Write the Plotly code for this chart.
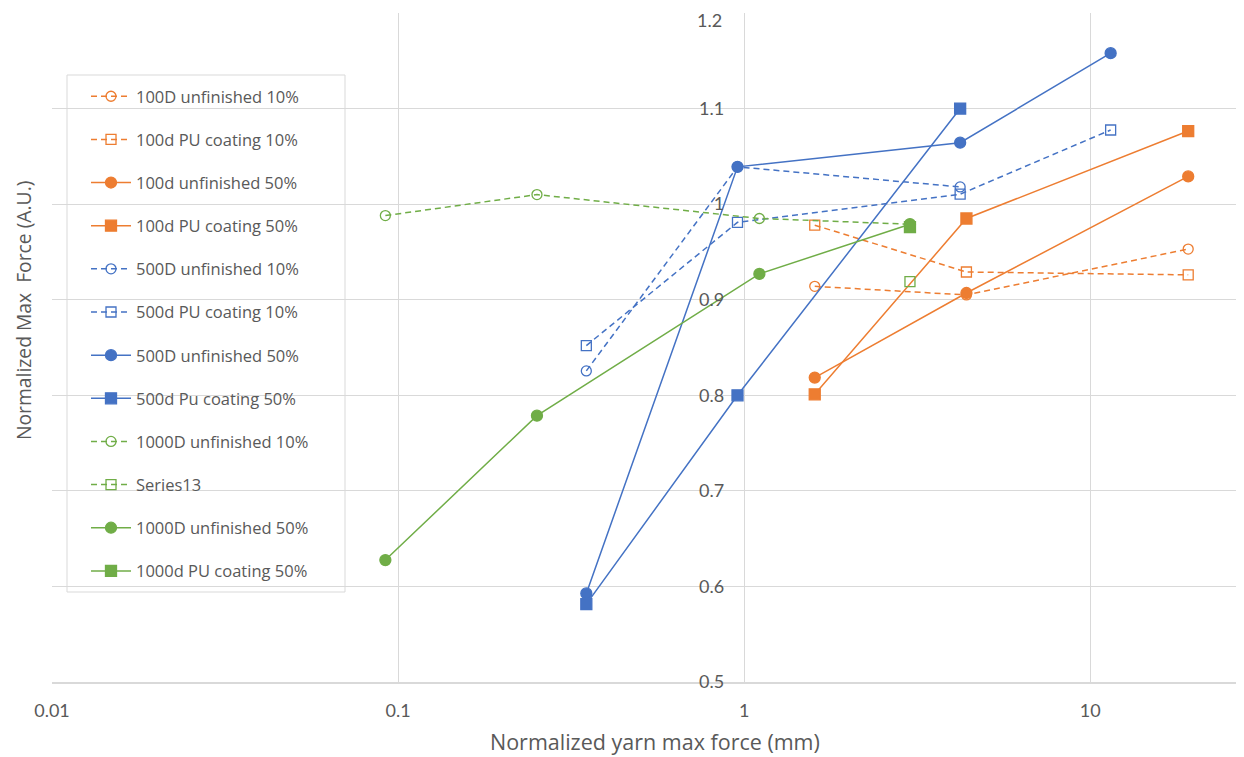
import plotly.graph_objects as go

# ---- data ----
x_100_unf10 = [1.6, 4.39, 19.2]
y_100_unf10 = [0.914, 0.905, 0.953]
x_100_pu10 = [1.6, 4.39, 19.2]
y_100_pu10 = [0.978, 0.929, 0.926]
x_100_unf50 = [1.6, 4.39, 19.2]
y_100_unf50 = [0.8185, 0.907, 1.029]
x_100_pu50 = [1.6, 4.39, 19.2]
y_100_pu50 = [0.801, 0.985, 1.0765]
x_500_unf10 = [0.35, 0.957, 4.21]
y_500_unf10 = [0.8255, 1.039, 1.018]
x_500_pu10 = [0.35, 0.957, 4.21, 11.46]
y_500_pu10 = [0.852, 0.981, 1.0104, 1.0776]
x_500_unf50 = [0.35, 0.957, 4.21, 11.46]
y_500_unf50 = [0.5927, 1.039, 1.0643, 1.158]
x_500_pu50 = [0.35, 0.957, 4.21]
y_500_pu50 = [0.5815, 0.80, 1.10]
x_1000_unf10 = [0.0919, 0.252, 1.107, 3.015]
y_1000_unf10 = [0.988, 1.01, 0.985, 0.979]
x_series13 = [3.015]
y_series13 = [0.919]
x_1000_unf50 = [0.0919, 0.252, 1.107, 3.015]
y_1000_unf50 = [0.6276, 0.7787, 0.927, 0.979]
x_1000_pu50 = [3.015]
y_1000_pu50 = [0.976]

x_tick_vals = [0.01, 0.1, 1, 10]
x_tick_text = ["0.01", "0.1", "1", "10"]
y_tick_vals = [0.5, 0.6, 0.7, 0.8, 0.9, 1.0, 1.1, 1.2]
y_tick_text = ["0.5", "0.6", "0.7", "0.8", "0.9", "1", "1.1", ""]
y_top_label = "1.2"

ORANGE = "#ED7D31"
BLUE = "#4472C4"
GREEN = "#70AD47"
TXT = "#595959"
GRID = "#D9D9D9"
DASH = "6px,4px"

series = [
    ("100D unfinished 10%", x_100_unf10, y_100_unf10, ORANGE, DASH, "circle-open"),
    ("100d PU coating 10%", x_100_pu10, y_100_pu10, ORANGE, DASH, "square-open"),
    ("100d unfinished 50%", x_100_unf50, y_100_unf50, ORANGE, "solid", "circle"),
    ("100d PU coating 50%", x_100_pu50, y_100_pu50, ORANGE, "solid", "square"),
    ("500D unfinished 10%", x_500_unf10, y_500_unf10, BLUE, DASH, "circle-open"),
    ("500d PU coating 10%", x_500_pu10, y_500_pu10, BLUE, DASH, "square-open"),
    ("500D unfinished 50%", x_500_unf50, y_500_unf50, BLUE, "solid", "circle"),
    ("500d Pu coating 50%", x_500_pu50, y_500_pu50, BLUE, "solid", "square"),
    ("1000D unfinished 10%", x_1000_unf10, y_1000_unf10, GREEN, DASH, "circle-open"),
    ("Series13", x_series13, y_series13, GREEN, DASH, "square-open"),
    ("1000D unfinished 50%", x_1000_unf50, y_1000_unf50, GREEN, "solid", "circle"),
    ("1000d PU coating 50%", x_1000_pu50, y_1000_pu50, GREEN, "solid", "square"),
]

# page offset (browser body margin) and figure geometry
OFF = 8
W, H = 1236, 749
ML, MR, MT, MB = 44, 4, 5, 75
PW = W - ML - MR
PH = H - MT - MB


def px(page_x):
    return (page_x - OFF - ML) / PW


def py(page_y):
    return 1 - (page_y - OFF - MT) / PH


fig = go.Figure()
for i, (name, xs, ys, col, dash, sym) in enumerate(series):
    is_open = sym.endswith("open")
    fig.add_trace(go.Scatter(
        x=xs, y=ys, name=name, mode="lines+markers",
        legendgroup="g%d" % i,
        line=dict(color=col, width=1.5, dash=dash),
        marker=dict(symbol=sym, size=10 if is_open else 11, color=col,
                    line=dict(color=col, width=1.3)),
    ))

xmin_log, xmax_log = -2, 1.433
ypos = (0 - xmin_log) / (xmax_log - xmin_log)

fig.update_layout(
    width=W, height=H,
    margin=dict(l=ML, r=MR, t=MT, b=MB, autoexpand=False),
    paper_bgcolor="white", plot_bgcolor="white",
    font=dict(family="Lato, Open Sans, sans-serif", color=TXT, size=14),
    showlegend=True,
    legend=dict(
        x=px(86), y=py(79), xanchor="left", yanchor="top",
        bgcolor="rgba(0,0,0,0)", borderwidth=0,
        font=dict(family="Open Sans, sans-serif", size=16.5, color=TXT),
        tracegroupgap=18.7,
        itemwidth=40,
    ),
    xaxis=dict(
        type="log", range=[xmin_log, xmax_log],
        tickvals=x_tick_vals, ticktext=x_tick_text,
        showgrid=True, gridcolor=GRID, gridwidth=1,
        showline=True, linecolor=GRID, linewidth=1.5,
        zeroline=False, ticks="", ticklabelstandoff=12,
        automargin=False,
        tickfont=dict(size=18, color=TXT),
    ),
    yaxis=dict(
        range=[0.5, 1.2],
        tickvals=y_tick_vals, ticktext=y_tick_text,
        showgrid=True, gridcolor=GRID, gridwidth=1,
        showline=False, zeroline=False, ticks="",
        anchor="free", position=ypos, side="left",
        ticklabelstandoff=20,
        automargin=False,
        tickfont=dict(size=18, color=TXT),
    ),
    shapes=[
        dict(type="rect", xref="paper", yref="paper",
             x0=px(67), x1=px(345), y0=py(592), y1=py(75),
             line=dict(color=GRID, width=1), fillcolor="white", layer="below"),
    ],
    annotations=[
        dict(text="Normalized yarn max force (mm)", x=px(655), y=py(741),
             xref="paper", yref="paper", showarrow=False,
             xanchor="center", yanchor="middle", borderpad=0,
             font=dict(family="Open Sans, sans-serif", size=21.5, color=TXT)),
        dict(text="Normalized Max  Force (A.U.)", x=px(23), y=py(311),
             xref="paper", yref="paper", showarrow=False, textangle=-90,
             xanchor="center", yanchor="middle", borderpad=0,
             font=dict(family="Open Sans, sans-serif", size=19.3, color=TXT)),
        dict(text=y_top_label, x=px(723), y=py(8),
             xref="paper", yref="paper", showarrow=False,
             xanchor="right", yanchor="top", borderpad=0,
             font=dict(size=18, color=TXT)),
    ],
)

fig.write_html("out.html")
